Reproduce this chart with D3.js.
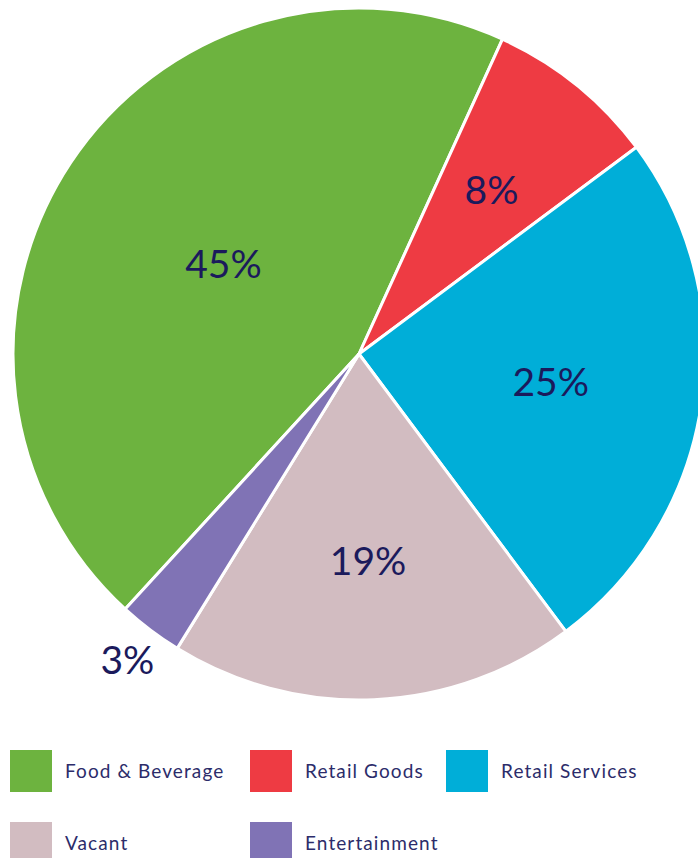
<!DOCTYPE html>
<html>
<head>
<meta charset="utf-8">
<script src="https://cdn.jsdelivr.net/npm/d3@7"></script>
<style>
  body { margin: 0; background: #fff; }
  text { font-family: Lato, "Open Sans", sans-serif; }
</style>
</head>
<body>
<svg id="chart" width="698" height="858"></svg>
<script>
// data
var categories = ["Food & Beverage", "Retail Goods", "Retail Services", "Vacant", "Entertainment"];
var values = [45, 8, 25, 19, 3];
var colors = ["#6db33f", "#ee3b43", "#00aed8", "#d2bcc1", "#8073b5"];
var labels = ["45%", "8%", "25%", "19%", "3%"];

// layout
var cx = 359, cy = 354, radius = 346;
var labelFactor = [0.47, 0.61, 0.56, 0.6, 1.11];
var textColor = "#1b1a5c";

var svg = d3.select("#chart");
var g = svg.append("g").attr("transform", "translate(" + cx + "," + cy + ")");

var data = categories.map(function(c, i) { return { name: c, value: values[i], i: i }; });

var startDeg = -137.5;
var pie = d3.pie()
    .sort(null)
    .value(function(d) { return d.value; })
    .startAngle(startDeg * Math.PI / 180)
    .endAngle((startDeg + 360) * Math.PI / 180);

var arc = d3.arc().innerRadius(0).outerRadius(radius);
var arcs = pie(data);

g.selectAll("path.slice")
  .data(arcs)
  .enter().append("path")
    .attr("class", "slice")
    .attr("d", arc)
    .style("fill", function(d) { return colors[d.data.i]; })
    .style("stroke", "#fff")
    .style("stroke-width", 3)
    .style("stroke-linejoin", "round");

g.selectAll("text.lbl")
  .data(arcs)
  .enter().append("text")
    .attr("class", "lbl")
    .attr("transform", function(d) {
        var a = (d.startAngle + d.endAngle) / 2;
        var r = radius * labelFactor[d.data.i];
        return "translate(" + (Math.sin(a) * r) + "," + (-Math.cos(a) * r) + ")";
    })
    .attr("text-anchor", "middle")
    .attr("dy", "0.36em")
    .style("font-size", "39px")
    .style("fill", textColor)
    .text(function(d) { return labels[d.data.i]; });

// legend
var legendX = [10, 250, 446];
var legendY = [750, 822];
var legend = svg.selectAll("g.legend")
  .data(data)
  .enter().append("g")
    .attr("class", "legend")
    .attr("transform", function(d, i) {
        return "translate(" + legendX[i % 3] + "," + legendY[Math.floor(i / 3)] + ")";
    });

legend.append("rect")
    .attr("width", 42)
    .attr("height", 42)
    .style("fill", function(d) { return colors[d.i]; });

legend.append("text")
    .attr("x", 55)
    .attr("y", 21)
    .attr("dy", "0.35em")
    .style("font-size", "19px")
    .style("letter-spacing", "1.1px")
    .style("fill", "#2c2c6a")
    .text(function(d) { return d.name; });
</script>
</body>
</html>
